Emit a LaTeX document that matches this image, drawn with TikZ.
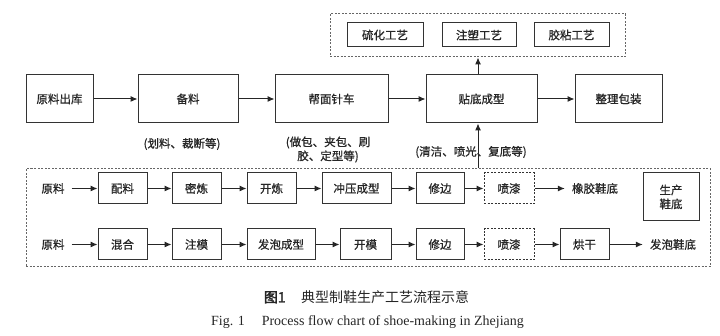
\documentclass[tikz,border=0pt]{standalone}
\usepackage{fontspec}
\setmainfont{Liberation Serif}
\newfontfamily\cjk[FakeBold=0.8]{Noto Sans CJK SC}
\newfontfamily\cjkb[FakeBold=2.2]{Noto Sans CJK SC}
\newfontfamily\cjkc{Noto Sans CJK SC}
\usetikzlibrary{arrows.meta,positioning}
\begin{document}
\begin{tikzpicture}[x=1pt,y=-1pt,
  every node/.style={font=\cjk\fontsize{11.5}{14}\selectfont, text=black!85},
  bigbox/.style={draw=black!80, line width=1pt, minimum height=48pt, inner sep=0pt},
  smallbox/.style={draw=black!80, line width=1pt, minimum height=31pt, inner sep=0pt},
  dbox/.style={smallbox, dashed, dash pattern=on 2pt off 1.5pt},
  topbox/.style={draw=black!80, line width=1pt, minimum height=24pt, inner sep=0pt},
  frame/.style={draw=black!60, line width=1pt, dash pattern=on 2pt off 1.5pt, inner sep=0pt},
  txt/.style={inner sep=7pt},
  arr/.style={-{Latex[length=7pt,width=6pt]}, line width=1pt, draw=black!85}]
\useasboundingbox (0,0) rectangle (720,336);
% top row
\node[bigbox, minimum width=67pt] (src) at (59.5,99) {原料出库};
\node[bigbox, minimum width=100pt] (bei) at (188,99) {备料};
\node[bigbox, minimum width=113pt] (bang) at (331.5,99) {帮面针车};
\node[bigbox, minimum width=111pt] (tie) at (481.5,99) {贴底成型};
\node[bigbox, minimum width=87pt] (zheng) at (618.5,99) {整理包装};
\draw[arr] (src) -- (bei);
\draw[arr] (bei) -- (bang);
\draw[arr] (bang) -- (tie);
\draw[arr] (tie) -- (zheng);
% labels
\node (l1) at (182,144) {(划料、裁断等)};
\node[align=center] (l2) at (328,149.5) {(做包、夹包、刷\\胶、定型等)};
% top dashed frame
\node[frame, minimum width=295pt, minimum height=43pt] (topf) at (477.5,35.5) {};
\node[topbox, minimum width=76pt] (lh) at (385,35) {硫化工艺};
\node[topbox, minimum width=74pt] (zs) at (479,35) {注塑工艺};
\node[topbox, minimum width=75pt] (jn) at (571.5,35) {胶粘工艺};
\coordinate (tn) at ([xshift=-3.5pt]tie.north);
\draw[arr] (tn) -- (tn |- topf.south);
% bottom frame
\node[frame, minimum width=684pt, minimum height=98pt] (botf) at (368,218) {};
\coordinate (ts) at ([xshift=-3.5pt]tie.south);
\draw[arr] (ts |- botf.north) -- (ts);
\node (l3) at (471,152) {(清洁、喷光、复底等)};
% row 1
\node[txt] (a0) at (53,188.5) {原料};
\node[smallbox, minimum width=49pt] (a1) at (122.5,188.5) {配料};
\node[smallbox, minimum width=49pt] (a2) at (196.5,188.5) {密炼};
\node[smallbox, minimum width=49pt] (a3) at (271.5,188.5) {开炼};
\node[smallbox, minimum width=69pt] (a4) at (356.5,188.5) {冲压成型};
\node[smallbox, minimum width=48pt] (a5) at (440,188.5) {修边};
\node[dbox, minimum width=50pt] (a6) at (509,188.5) {喷漆};
\node[txt] (a7) at (595,188.5) {橡胶鞋底};
\foreach \i/\j in {a0/a1,a1/a2,a2/a3,a3/a4,a4/a5,a5/a6,a6/a7} \draw[arr] (\i) -- (\j);
\node[bigbox, minimum width=56pt, align=center] (sc) at (671,197) {生产\\鞋底};
% row 2
\node[txt] (b0) at (53,244.5) {原料};
\node[smallbox, minimum width=49pt] (b1) at (122.5,244.5) {混合};
\node[smallbox, minimum width=49pt] (b2) at (196.5,244.5) {注模};
\node[smallbox, minimum width=68pt] (b3) at (281,244.5) {发泡成型};
\node[smallbox, minimum width=51pt] (b4) at (365.5,244.5) {开模};
\node[smallbox, minimum width=48pt] (b5) at (440,244.5) {修边};
\node[dbox, minimum width=50pt] (b6) at (509,244.5) {喷漆};
\node[smallbox, minimum width=49pt] (b7) at (584.5,244.5) {烘干};
\node[txt] (b8) at (673,244.5) {发泡鞋底};
\foreach \i/\j in {b0/b1,b1/b2,b2/b3,b3/b4,b4/b5,b5/b6,b6/b7,b7/b8} \draw[arr] (\i) -- (\j);
% captions
\node[font=\cjkc\fontsize{14}{16}\selectfont] (cap1) at (366.5,297) {{\cjkb 图1}\hspace{1.1em}典型制鞋生产工艺流程示意};
\node[font=\rmfamily\fontsize{14}{16}\selectfont] (cap2) at (367.5,322) {Fig. 1\hspace{1.2em}Process flow chart of shoe-making in Zhejiang};
\end{tikzpicture}
\end{document}
